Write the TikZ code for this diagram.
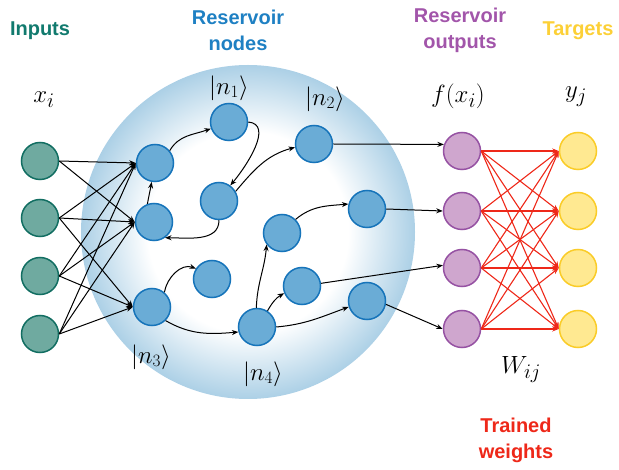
\documentclass[tikz,border=0pt]{standalone}
\usepackage{amsmath}
\usepackage{fontspec}
\setsansfont{Liberation Sans}
\usepackage{tikz}
\usetikzlibrary{arrows.meta}
\definecolor{inputfill}{RGB}{111,170,160}
\definecolor{inputline}{RGB}{18,110,98}
\definecolor{inputtext}{RGB}{17,122,110}
\definecolor{resfill}{RGB}{106,172,214}
\definecolor{resline}{RGB}{22,116,186}
\definecolor{restext}{RGB}{30,128,195}
\definecolor{outfill}{RGB}{207,166,206}
\definecolor{outline}{RGB}{150,82,163}
\definecolor{outtext}{RGB}{162,85,170}
\definecolor{tarfill}{RGB}{255,233,145}
\definecolor{tarline}{RGB}{250,204,40}
\definecolor{tartext}{RGB}{252,208,55}
\definecolor{trainred}{RGB}{238,40,25}
\definecolor{glowblue}{RGB}{172,208,230}
\pgfdeclareradialshading{reservoirglow}{\pgfpointorigin}{color(0bp)=(white); color(15bp)=(white); color(25bp)=(glowblue); color(50bp)=(glowblue)}
\tikzset{
  unit/.style    = {circle, minimum size=37pt, inner sep=0pt, line width=1.5pt},
  innode/.style  = {unit, draw=inputline, fill=inputfill},
  resnode/.style = {unit, draw=resline, fill=resfill},
  outnode/.style = {unit, draw=outline, fill=outfill},
  tarnode/.style = {unit, draw=tarline, fill=tarfill},
  heading/.style = {font=\fontsize{20}{26}\selectfont\sffamily\bfseries, align=center},
  sym/.style     = {font=\fontsize{32}{34}\selectfont},
  ket/.style     = {font=\fontsize{25}{27}\selectfont},
  link/.style    = {->, >={Stealth[length=6.5pt, width=5pt]}, line width=1pt},
  weight/.style  = {->, >={Stealth[length=6.5pt, width=5pt]}, line width=1.1pt, draw=trainred}
}

\begin{document}
\begin{tikzpicture}[x=1pt, y=1pt]
  \useasboundingbox (0,0) rectangle (619,469);
  \shade[shading=reservoirglow] (248,237) circle (167pt);

  % columns
  \foreach \y [count=\i] in {308,251,193,135}
    \node[innode] (x\i) at (40,\y) {};
  \foreach \y [count=\i] in {318,258,201,140} {
    \node[outnode] (f\i) at (462,\y) {};
    \node[tarnode] (y\i) at (578,\y) {};
  }

  % reservoir
  \node[resnode] (ra) at (155,306) {};
  \node[resnode] (rb) at (154,247) {};
  \node[resnode] (n1) at (229,347) {};
  \node[resnode] (rc) at (219,268) {};
  \node[resnode] (n2) at (314,325) {};
  \node[resnode] (n3) at (152,162) {};
  \node[resnode] (rd) at (212,190) {};
  \node[resnode] (n4) at (257,142) {};
  \node[resnode] (re) at (282,236) {};
  \node[resnode] (rf) at (302,183) {};
  \node[resnode] (rg) at (367,260) {};
  \node[resnode] (rh) at (367,168) {};

  \foreach \s/\t in {x1/ra, x1/rb, x2/ra, x2/rb, x2/n3, x3/ra, x3/rb, x3/n3,
                     x4/ra, x4/rb, x4/n3}
    \draw[link] (\s.east) -- (\t.west);

  \draw[link] (ra.40) to[out=60, in=200] (n1.200);
  \draw[link] (n1.east) to[out=-5, in=50] (rc.54);
  \draw[link] (rc.30) to[out=50, in=195] (n2.190);
  \draw[link] (rc.south) to[out=-90, in=0] (rb.-55);
  \draw[link] (rb.110) to[out=80, in=-100] (ra.-100);
  \draw[link] (n3.50) to[out=80, in=160] (rd.147);
  \draw[link] (n3.-45) to[out=-30, in=185] (n4.195);
  \draw[link] (n4.92) to[out=88, in=-95] (re.217);
  \draw[link] (n4.57) to[out=60, in=210] (rf.202);
  \draw[link] (n4.east) to[out=5, in=200] (rh.198);
  \draw[link] (re.45) to[out=40, in=185] (rg.165);

  \draw[link] (n2.east) -- (f1.160);
  \draw[link] (rg.east) -- (f2.west);
  \draw[link] (rf.8) -- (f3.172);
  \draw[link] (rh.-10) -- (f4.west);

  \foreach \i in {1,...,4}
    \foreach \j in {1,...,4}
      \draw[weight] (f\i.east) -- (y\j.west);

  % labels
  \node[heading, text=inputtext] (inlab) at (40,438) {Inputs};
  \node[heading, text=restext] (reslab) at (238,439) {Reservoir\\nodes};
  \node[heading, text=outtext] (outlab) at (460,439) {Reservoir\\outputs};
  \node[heading, text=tartext] (tarlab) at (578,438) {Targets};
  \node[heading, text=trainred] (wlab) at (516,29) {Trained\\weights};

  \node[sym] (xlab) at (44,369) {$x_i$};
  \node[sym] (flab) at (458,373) {$f(x_i)$};
  \node[sym] (ylab) at (576,372) {$y_j$};
  \node[sym] (Wlab) at (521,99) {$W_{ij}$};
  \node[ket] (k1) at (229,381) {$|n_1\rangle$};
  \node[ket] (k2) at (325,370) {$|n_2\rangle$};
  \node[ket] (k3) at (151,112) {$|n_3\rangle$};
  \node[ket] (k4) at (263,95) {$|n_4\rangle$};
\end{tikzpicture}
\end{document}
